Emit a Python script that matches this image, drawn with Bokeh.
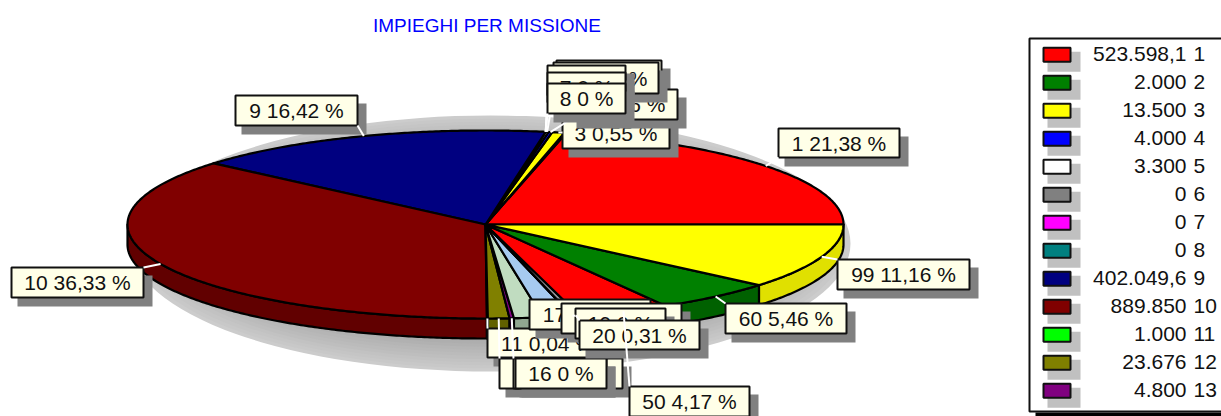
import numpy as np
from bokeh.core.properties import value
from bokeh.embed import file_html
from bokeh.models import ColumnDataSource, Range1d
from bokeh.plotting import figure
from bokeh.resources import INLINE

# ---- data
keys = [1, 2, 3, 4, 5, 6, 7, 8, 9, 10, 11, 12, 13, 14, 15, 16, 17, 18, 19, 20, 50, 60, 99]
amounts = [523598.1, 2000, 13500, 4000, 3300, 0, 0, 0, 402049.6, 889850, 1000, 23676, 4800,
           31400, 32700, 0, 250, 250, 0, 7600, 102000, 133700, 273300]
percents = ["21,38", "0,08", "0,55", "0,16", "0,13", "0", "0", "0", "16,42", "36,33", "0,04", "0,97", "0,2",
            "1,28", "1,34", "0", "0,01", "0,01", "0", "0,31", "4,17", "5,46", "11,16"]
legend_values = ["523.598,1", "2.000", "13.500", "4.000", "3.300", "0", "0", "0",
                 "402.049,6", "889.850", "1.000", "23.676", "4.800"]
legend_keys = [1, 2, 3, 4, 5, 6, 7, 8, 9, 10, 11, 12, 13]
title = "IMPIEGHI PER MISSIONE"

# ---- styles and layout
colors = ["#FF0000", "#008000", "#FFFF00", "#0000FF", "#FFFFFF", "#808080", "#FF00FF", "#008080",
          "#000080", "#800000", "#00FF00", "#808000", "#800080", "#C0DCC0", "#A6CAF0", "#FFFBF0",
          "#A0A0A4", "#C0C0C0", "#FF8080", "#909094", "#FF0000", "#008000", "#FFFF00"]
FONT = value("Liberation Sans")
CX, CY, RX, RY, DEPTH = 485.0, 224.0, 358.0, 94.0, 20.0
EDGE = 2.2
# label boxes: key -> (left, right, top, bottom)
boxes = {
    1: (778, 899, 128, 157), 2: (556, 661, 60, 90), 3: (562, 669, 118, 148), 4: (570, 677, 89, 119),
    5: (553, 658, 62, 93), 6: (547, 625, 65, 95), 7: (547, 625, 72, 102), 8: (547, 625, 83, 113),
    9: (235, 357, 95, 125), 10: (11, 143, 267, 297), 11: (487, 607, 328, 357),
    12: (499, 622, 358, 388), 13: (513, 606, 358, 388), 16: (515, 606, 358, 388), 17: (529, 650, 299, 329),
    18: (561, 681, 303, 333), 19: (575, 665, 308, 338), 20: (579, 699, 320, 349),
    50: (629, 749, 386, 416), 60: (725, 846, 303, 333), 99: (837, 969, 259, 289),
}
no_leader = {16}

p = figure(width=1221, height=416, output_backend="svg", toolbar_location=None,
           x_range=Range1d(0, 1221), y_range=Range1d(416, 0), min_border=0,
           background_fill_color="white", border_fill_color="white")
p.axis.visible = False
p.grid.visible = False
p.outline_line_color = None

# title
p.text([486.5], [25], text=[title], text_font=FONT, text_font_size="19px", text_color="#0000FF",
       text_align="center", text_baseline="middle")

# soft shadow below the pie
steps = np.linspace(0, 1, 12)
for s in steps:
    g = int(204 - 36 * s)
    p.ellipse([490], [243], width=2 * (360 - 60 * s), height=2 * (128 - 34 * s),
              fill_color=f"#{g:02x}{g:02x}{g:02x}", line_color=None)


def rim(a, dy=0.0):
    a = np.radians(a)
    return CX + RX * np.cos(a), CY - RY * np.sin(a) + dy


vals = np.array(amounts, dtype=float)
edges = np.concatenate([[0], np.cumsum(vals)]) / vals.sum() * 360.0


def darker(c):
    r, g, b = int(c[1:3], 16), int(c[3:5], 16), int(c[5:7], 16)
    f = 0.88 if (r, g, b) == (255, 255, 0) else 0.76
    return f"#{int(r*f):02x}{int(g*f):02x}{int(b*f):02x}"


# side wall of the front half
for a0, a1, c in zip(edges[:-1], edges[1:], colors):
    lo, hi = max(a0, 180.0), min(a1, 360.0)
    if hi <= lo:
        continue
    t = np.linspace(lo, hi, max(int(hi - lo) * 2, 2))
    x, y = rim(t)
    xs = np.concatenate([x, x[::-1]])
    ys = np.concatenate([y, (y + DEPTH)[::-1]])
    p.patch(xs, ys, fill_color=darker(c), line_color="black", line_width=EDGE, line_join="round")

# top face
for a0, a1, c in zip(edges[:-1], edges[1:], colors):
    if a1 <= a0:
        continue
    t = np.linspace(a0, a1, max(int(a1 - a0) * 2, 2))
    x, y = rim(t)
    p.patch(np.concatenate([[CX], x]), np.concatenate([[CY], y]), fill_color=c,
            line_color="black", line_width=EDGE, line_join="round")

# callouts, later keys on top; each leader lies over earlier boxes and under later ones
mids = (edges[:-1] + edges[1:]) / 2
for k, pct, m in zip(keys, percents, mids):
    if k not in boxes:
        continue
    l, r, t, b = boxes[k]
    p.quad(left=[l + 6], right=[r + 9], top=[t + 8], bottom=[b + 9], fill_color="#808080", line_color=None)
    p.quad(left=[l], right=[r], top=[t], bottom=[b], fill_color="#FFFFE8", line_color="#101010", line_width=2)
    p.text([(l + r) / 2], [(t + b) / 2], text=[f"{k} {pct} %"], text_font=FONT, text_font_size="21px",
           text_color="#111111", text_align="center", text_baseline="middle")
    if k not in no_leader:
        x0, y0 = rim(m)
        p.line([x0, float(np.clip(x0, l, r))], [y0, float(np.clip(y0, t, b))], line_color="white", line_width=2)

# legend
p.quad(left=[1035], right=[1230], top=[412], bottom=[420], fill_color="#000000", line_color=None)
p.quad(left=[1029], right=[1230], top=[38], bottom=[411], fill_color="white", line_color="#111111", line_width=2)
rows = 54.3 + 28.0 * np.arange(len(legend_values))
p.quad(left=1047, right=1080, top=rows - 3, bottom=rows + 17, fill_color="#C0C0C0", line_color=None)
p.quad(left=1043, right=1070, top=rows - 7, bottom=rows + 7, fill_color=colors[:len(legend_values)],
       line_color="#111111", line_width=2)
src = ColumnDataSource(dict(y=rows - 0.5, v=legend_values, k=[str(k) for k in legend_keys]))
p.text(1186, "y", text="v", source=src, text_font=FONT, text_font_size="21px", text_color="#111111",
       text_align="right", text_baseline="middle")
p.text(1193, "y", text="k", source=src, text_font=FONT, text_font_size="21px", text_color="#111111",
       text_align="left", text_baseline="middle")

open("out.html", "w").write(file_html(p, INLINE))
